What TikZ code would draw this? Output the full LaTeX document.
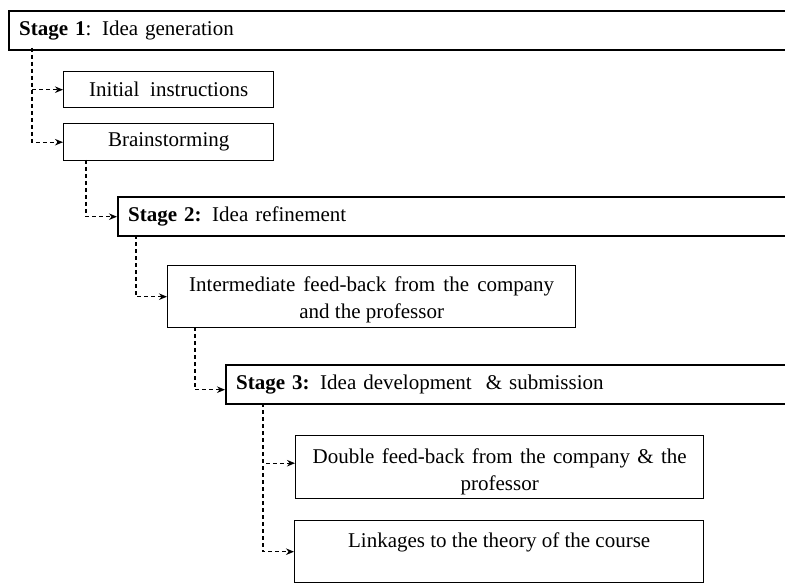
\documentclass[tikz,border=0pt]{standalone}
\usepackage{fontspec}
\setmainfont{Liberation Serif}
\usetikzlibrary{arrows.meta}
\newcommand{\topgap}[1]{\rule{0pt}{#1}}
\begin{document}
\begin{tikzpicture}[x=1pt,y=-1pt,
  every node/.style={font=\fontsize{21}{27}\selectfont},
  stagebox/.style={draw, line width=2.4pt, anchor=north west, minimum height=39pt,
    text width=780pt, align=left, inner xsep=10pt, inner ysep=0pt},
  itembox/.style={draw, line width=1.4pt, anchor=north west, align=center, inner sep=0pt},
  conn/.style={line width=1.2pt, dash pattern=on 4pt off 3pt,
    -{Stealth[length=8pt,width=6.5pt]}}
]
\useasboundingbox (0,0) rectangle (785,583);
\clip (0,0) rectangle (785,583);

\node[stagebox] (s1) at (8,10) {\textbf{Stage 1}: Idea generation};
\node[itembox, minimum width=210pt, minimum height=36pt] (init) at (63,71)
  {\makebox[159pt][s]{Initial instructions}};
\node[itembox, minimum width=210pt, minimum height=37pt] (brain) at (63,123) {Brainstorming};

\node[stagebox] (s2) at (117,196) {\textbf{Stage 2:} Idea refinement};
\node[itembox, minimum width=408pt, minimum height=62pt] (inter) at (167,265)
  {\topgap{21pt}\makebox[365pt][s]{Intermediate feed-back from the company}\\and the professor};

\node[stagebox] (s3) at (225,364) {\textbf{Stage 3:} Idea development \ \& submission};
\node[itembox, minimum width=408pt, minimum height=63pt] (dbl) at (295,435)
  {\topgap{24pt}\makebox[374pt][s]{Double feed-back from the company \& the}\\professor};
\node[itembox, minimum width=409pt, minimum height=62pt] (link) at (294,520)
  {\topgap{26pt}Linkages to the theory of the course\\\strut};

\coordinate (a1) at (32,48);
\coordinate (a2) at (86,160);
\coordinate (a3) at (136,235);
\coordinate (a4) at (195,327);
\coordinate (a5) at (263,403);

\draw[conn] (a1) |- (init.west);
\draw[conn] (a1) |- (brain.west);
\draw[conn] (a2) |- (s2.west);
\draw[conn] (a3) |- (inter.west);
\draw[conn] (a4) |- ([yshift=-5pt]s3.west);
\draw[conn] (a5) |- ([yshift=4pt]dbl.west);
\draw[conn] (a5) |- (link.west);
\end{tikzpicture}
\end{document}
